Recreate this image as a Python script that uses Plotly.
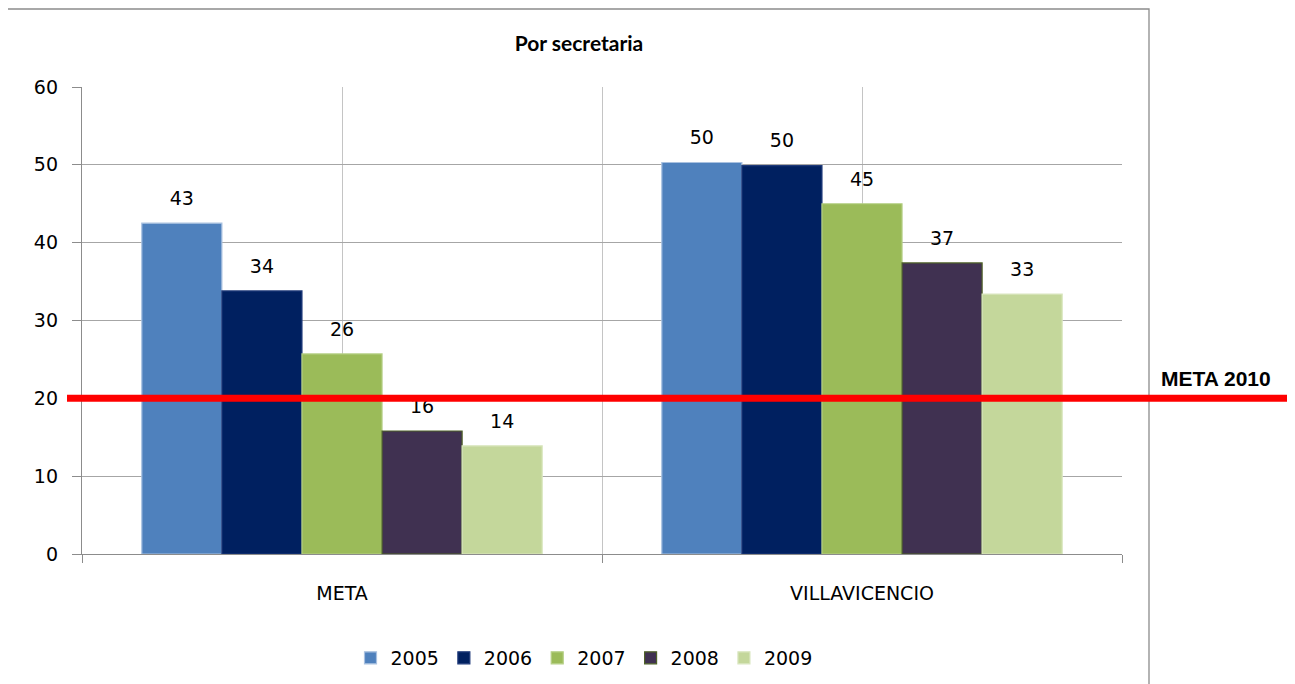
import plotly.graph_objects as go

categories = ["META", "VILLAVICENCIO"]
years = ["2005", "2006", "2007", "2008", "2009"]
values = {
    "2005": [42.5, 50.3],
    "2006": [33.8, 49.9],
    "2007": [25.7, 45.0],
    "2008": [15.8, 37.4],
    "2009": [13.9, 33.4],
}
labels = {
    "2005": ["43", "50"],
    "2006": ["34", "50"],
    "2007": ["26", "45"],
    "2008": ["16", "37"],
    "2009": ["14", "33"],
}
colors = ["#4f81bd", "#002060", "#9bbb59", "#403151", "#c4d79b"]
outlines = ["#a9c1e0", "#1f3a7a", "#b5cf85", "#4f6228", "#d9e6bf"]
meta_value = 20
meta_label = "META 2010"
title = "Por secretaria"

x_pos = list(range(len(categories)))

OFF = 8  # page body margin
W, H = 1295, 684
# target plot area in screenshot pixels: x 82..1122, y 87..554
L = 82 - OFF
T = 87 - OFF
R = W - (1122 - OFF)
B = H - (554 - OFF)
pw, ph = W - L - R, H - T - B

def px_x(px):
    return (px - OFF - L) / pw

def px_y(py):
    return (H - B - (py - OFF)) / ph

BARGAP = 0.23
FONT = "DejaVu Sans"

fig = go.Figure()
for i, y in enumerate(years):
    fig.add_trace(go.Bar(
        name=y, x=x_pos, y=values[y],
        offsetgroup=y,
        marker=dict(color=colors[i], line=dict(color=outlines[i], width=1.2)),
    ))
for i, y in enumerate(years):
    fig.add_trace(go.Scatter(
        x=x_pos, y=values[y], text=labels[y], offsetgroup=y,
        mode="markers+text", textposition="top center",
        marker=dict(size=20, opacity=0),
        textfont=dict(family=FONT, size=19, color="#000000"),
        showlegend=False, hoverinfo="skip", cliponaxis=False,
    ))

fig.update_layout(
    width=W, height=H,
    margin=dict(l=L, r=R, t=T, b=B),
    paper_bgcolor="white", plot_bgcolor="white",
    barmode="group", bargap=BARGAP, bargroupgap=0,
    scattermode="group", scattergap=BARGAP,
    title=dict(text="<b>" + title + "</b>", x=(579 - OFF) / W, xref="container", xanchor="center",
               y=1 - (44 - OFF) / H, yref="container", yanchor="middle",
               font=dict(family="Lato", size=21, color="#000")),
    showlegend=True,
    legend=dict(orientation="h", x=px_x(584), xanchor="center", y=px_y(658), yanchor="middle",
                font=dict(family=FONT, size=19, color="#000"),
                itemwidth=30, traceorder="normal", bgcolor="rgba(0,0,0,0)"),
    font=dict(family=FONT, color="#000"),
)

fig.update_xaxes(
    range=[-0.5, len(categories) - 0.5],
    tickvals=x_pos, ticktext=categories, ticks="",
    tickfont=dict(family=FONT, size=19, color="#000"),
    ticklabelstandoff=22,
    showgrid=True, gridcolor="#c4c4c4", gridwidth=1,
    minor=dict(tickvals=[-0.5, 0.5, 1.5], ticks="outside", ticklen=8, tickcolor="#8c8c8c",
               showgrid=True, gridcolor="#c4c4c4", gridwidth=1),
    showline=True, linecolor="#8c8c8c", linewidth=1.3,
    zeroline=False, fixedrange=True,
)
fig.update_yaxes(
    range=[0, 60], dtick=10, ticks="outside", ticklen=9, tickcolor="#8c8c8c",
    tickfont=dict(family=FONT, size=19, color="#000"),
    ticklabelstandoff=10,
    showgrid=True, gridcolor="#a6a6a6", gridwidth=1.3,
    showline=True, linecolor="#8c8c8c", linewidth=1.3,
    zeroline=False,
)

# chart border
fig.add_shape(type="rect", xref="paper", yref="paper",
              x0=px_x(7), x1=px_x(1149), y0=px_y(720), y1=px_y(9),
              line=dict(color="#8c8c8c", width=1.3), layer="below")

# META 2010 line
fig.add_shape(type="line", xref="paper", yref="y",
              x0=px_x(67), x1=px_x(1300), y0=meta_value, y1=meta_value,
              line=dict(color="#ff0000", width=7), layer="above")
fig.add_annotation(text="<b>" + meta_label + "</b>", xref="paper", yref="paper",
                   x=px_x(1216), y=px_y(378), xanchor="center", yanchor="middle",
                   showarrow=False,
                   font=dict(family="Liberation Sans", size=21, color="#000"))

fig.write_html("out.html")
